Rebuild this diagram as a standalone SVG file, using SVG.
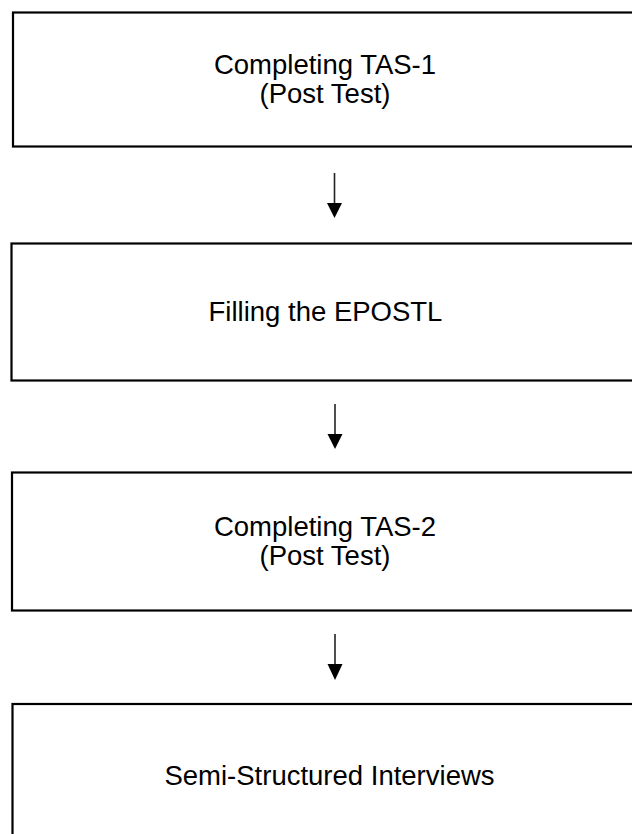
<svg xmlns="http://www.w3.org/2000/svg" width="632" height="834" viewBox="0 0 632 834">
<defs>
<style>
.box{fill:#fff;stroke:#000;stroke-width:2.2}
.lbl{font-family:"Liberation Sans",Arial,sans-serif;font-size:27.5px;fill:#000;text-anchor:middle}
.conn{stroke:#222;stroke-width:1.6;fill:none}
</style>
<marker id="ah" viewBox="0 0 16 16" refX="8" refY="16" markerWidth="16" markerHeight="16" markerUnits="userSpaceOnUse" orient="auto-start-reverse">
<path d="M0,0 L16,0 L8,16 Z" fill="#000"/>
</marker>
</defs>
<rect width="632" height="834" fill="#fff"/>
<g id="node1">
<rect class="box" x="13" y="12.5" width="640" height="134"/>
<text class="lbl" x="325" y="74">Completing TAS-1</text>
<text class="lbl" x="325" y="103">(Post Test)</text>
</g>
<g id="node2">
<rect class="box" x="11.5" y="243.5" width="640" height="137"/>
<text class="lbl" x="325.5" y="321">Filling the EPOSTL</text>
</g>
<g id="node3">
<rect class="box" x="12" y="472.5" width="640" height="138"/>
<text class="lbl" x="325" y="536">Completing TAS-2</text>
<text class="lbl" x="325" y="565">(Post Test)</text>
</g>
<g id="node4">
<rect class="box" x="12.5" y="704" width="640" height="160"/>
<text class="lbl" x="329.5" y="785">Semi-Structured Interviews</text>
</g>
<g id="connectors">
<line class="conn" x1="334.5" y1="173" x2="334.5" y2="204"/>
<path d="M327,203 L342,203 L334.5,218 Z" fill="#000"/>
<line class="conn" x1="335" y1="404" x2="335" y2="435"/>
<path d="M327.5,434 L342.5,434 L335,449 Z" fill="#000"/>
<line class="conn" x1="335" y1="634" x2="335" y2="665"/>
<path d="M327.5,664 L342.5,664 L335,680 Z" fill="#000"/>
</g>
</svg>
